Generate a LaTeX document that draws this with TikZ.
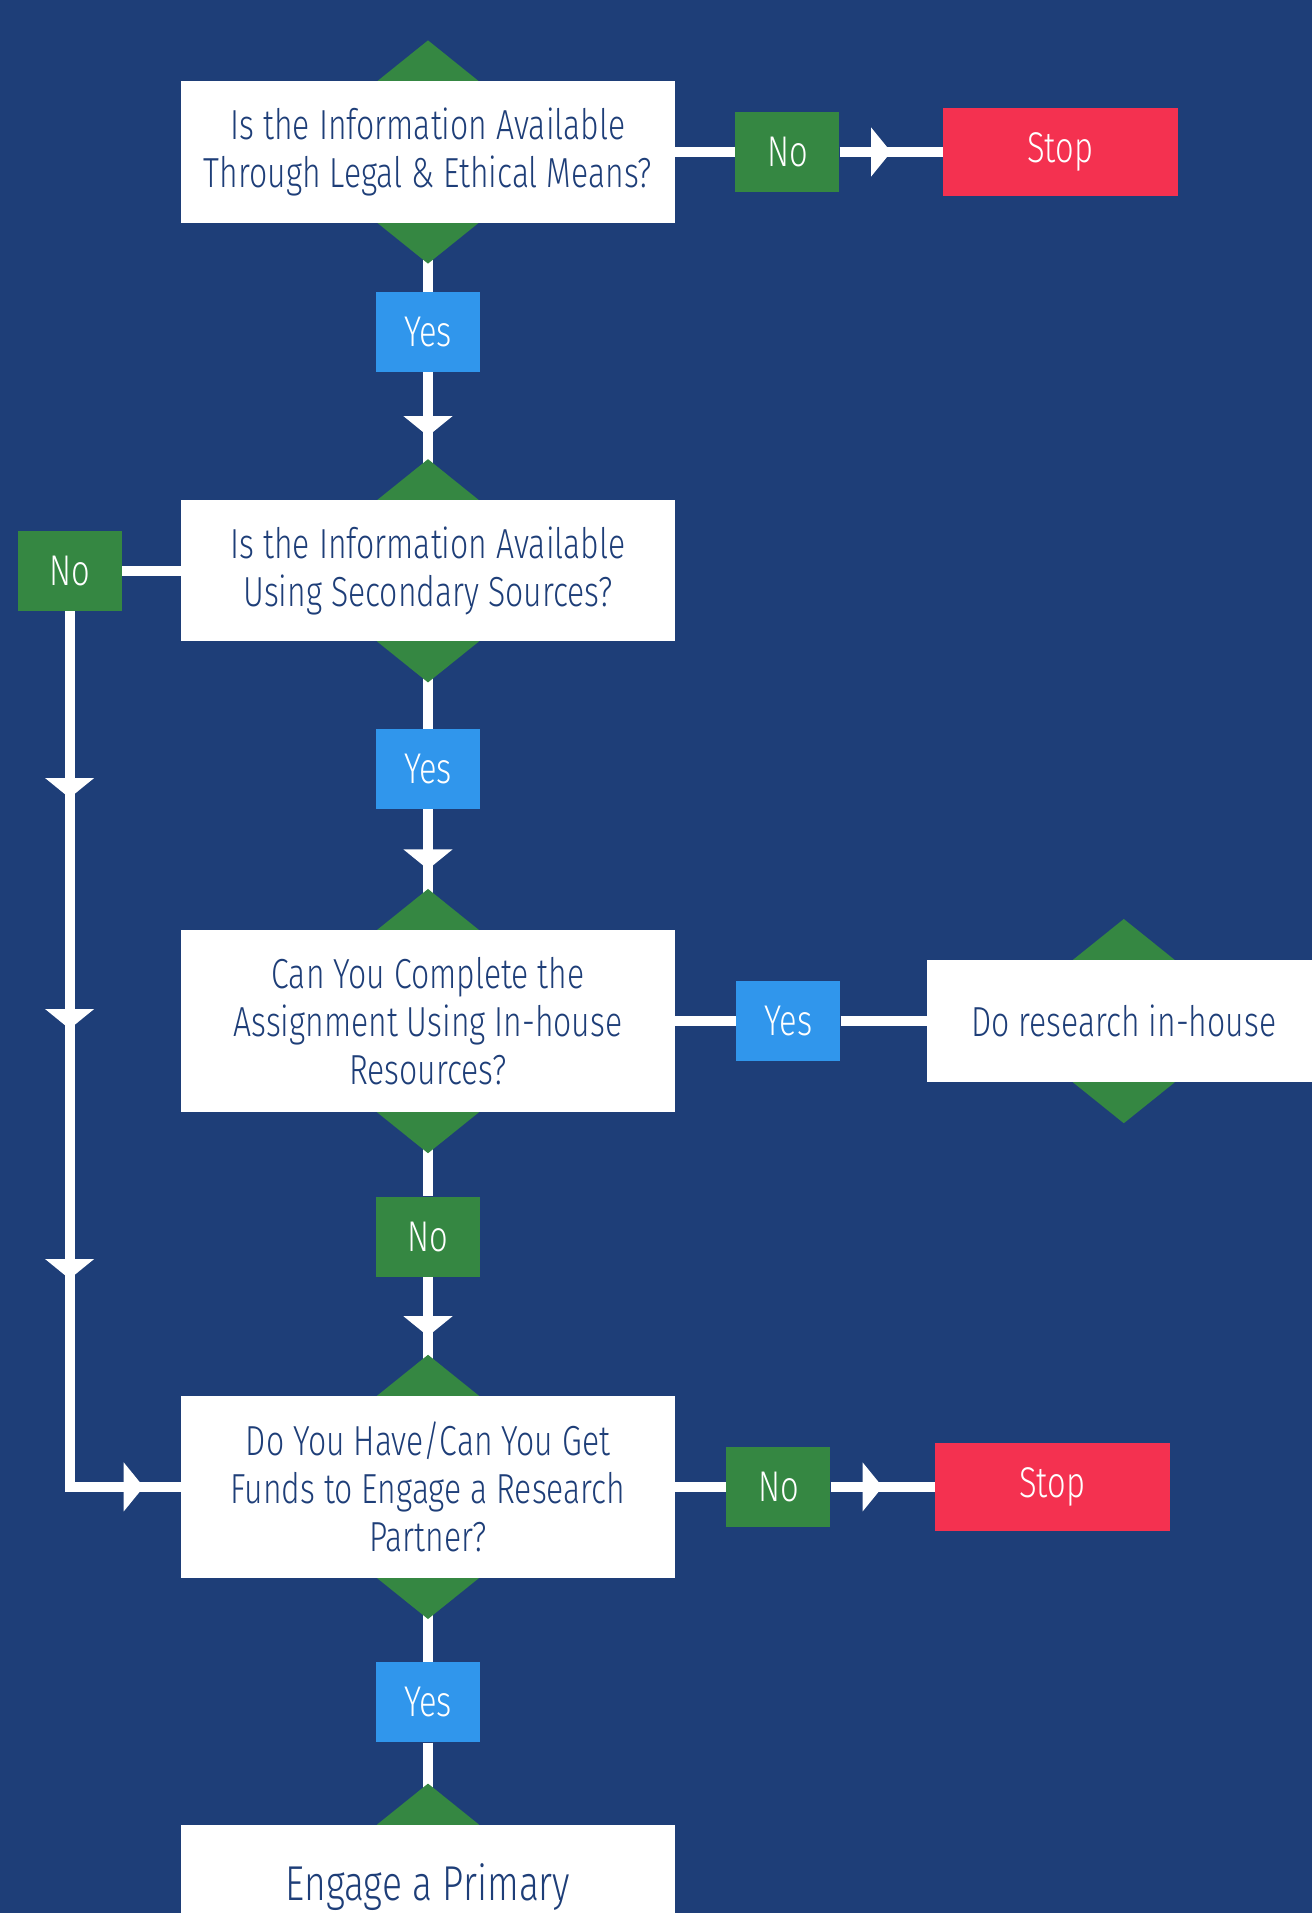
\documentclass[tikz,border=0pt]{standalone}
\usepackage{fontspec}
\setmainfont{Fira Sans Light}[FakeStretch=0.76]
\usetikzlibrary{arrows.meta,positioning,shapes.geometric,backgrounds,decorations.markings}

\definecolor{navy}{RGB}{30,62,120}
\definecolor{leaf}{RGB}{53,135,66}
\definecolor{sky}{RGB}{48,150,236}
\definecolor{alarm}{RGB}{244,49,80}

\pgfdeclarelayer{lines}
\pgfdeclarelayer{tips}
\pgfsetlayers{background,lines,tips,main}

\tikzset{tri/.tip={Triangle[width=48pt,length=20pt]}}

\begin{document}
\begin{tikzpicture}[x=1pt,y=1pt]
    \tikzstyle{question}=[rectangle, fill=white, text=navy, minimum width=494pt, minimum height=141pt, align=center, font=\fontsize{42}{48}\selectfont, inner sep=0pt]
    \tikzstyle{tall}=[question, minimum height=182pt]
    \tikzstyle{answer}=[rectangle, minimum width=104pt, minimum height=80pt, text=white, font=\fontsize{43}{48}\selectfont, inner sep=0pt]
    \tikzstyle{yes}=[answer, fill=sky]
    \tikzstyle{no}=[answer, fill=leaf]
    \tikzstyle{stop}=[rectangle, fill=alarm, text=white, minimum width=235pt, minimum height=88pt, font=\fontsize{43}{48}\selectfont]
    \tikzstyle{gem}=[diamond, fill=leaf, minimum width=102pt, minimum height=82pt, inner sep=0pt]
    \tikzstyle{link}=[draw=white, line width=10pt]
    \tikzstyle{midarrow}=[postaction={decorate}, decoration={markings, mark=at position 0.5 with {\arrow{tri}}}]

    \useasboundingbox (0,0) rectangle (1312,-1913);
    \begin{pgfonlayer}{background}
      \fill[navy] (0,0) rectangle (1312,-1913);
    \end{pgfonlayer}

    % main column
    \node[question] (q1) at (428,-152) {Is the Information Available\\Through Legal \& Ethical Means?};
    \node[yes]      (y1) [below=69pt of q1] {Yes};
    \node[question] (q2) [below=128pt of y1] {Is the Information Available\\Using Secondary Sources?};
    \node[yes]      (y2) [below=87pt of q2] {Yes};
    \node[tall]     (q3) [below=121pt of y2] {Can You Complete the\\Assignment Using In-house\\Resources?};
    \node[no]       (n3) [below=84pt of q3] {No};
    \node[tall]     (q4) [below=119pt of n3] {Do You Have/Can You Get\\Funds to Engage a Research\\Partner?};
    \node[yes]      (y4) [below=84pt of q4] {Yes};
    \node[question, minimum height=124pt, font=\fontsize{49}{56}\selectfont] (q5) [below=82pt of y4] {Engage a Primary};

    % side branches
    \node[no]   (n1)    [right=60pt of q1] {No};
    \node[stop] (stop1) [right=103pt of n1] {Stop};
    \node[no]   (n2)    [left=59pt of q2] {No};
    \node[yes]  (y3)    [right=61pt of q3] {Yes};
    \node[question, minimum width=394pt, minimum height=122pt] (inhouse) [right=86pt of y3] {Do research in-house};
    \node[no]   (n4)    [right=51pt of q4] {No};
    \node[stop] (stop2) [right=104pt of n4] {Stop};

    \begin{pgfonlayer}{tips}
      \foreach \b/\a in {q1/north,q1/south,q2/north,q2/south,q3/north,q3/south,q4/north,q4/south,q5/north,inhouse/north,inhouse/south}
        \node[gem] at (\b.\a) {};
    \end{pgfonlayer}

    \begin{pgfonlayer}{lines}
    \begin{scope}[every path/.style=link]
      \draw (q1) -- (n1);
      \draw[midarrow] (n1) -- (stop1);
      \draw (q1) -- (y1);
      \draw[midarrow] (y1) -- (q2);
      \draw (q2) -- (n2);
      \draw[postaction={decorate}, decoration={markings,
          mark=at position 187pt with {\arrow{tri}},
          mark=at position 418pt with {\arrow{tri}},
          mark=at position 668pt with {\arrow{tri}},
          mark=at position 950pt with {\arrow{tri}}}]
        (n2.south) |- (q4.west);
      \draw (q2) -- (y2);
      \draw[midarrow] (y2) -- (q3);
      \draw (q3) -- (y3);
      \draw (y3) -- (inhouse);
      \draw (q3) -- (n3);
      \draw[midarrow] (n3) -- (q4);
      \draw (q4) -- (n4);
      \draw[midarrow] (n4) -- (stop2);
      \draw (q4) -- (y4);
      \draw (y4) -- (q5);
    \end{scope}
    \end{pgfonlayer}
\end{tikzpicture}
\end{document}
